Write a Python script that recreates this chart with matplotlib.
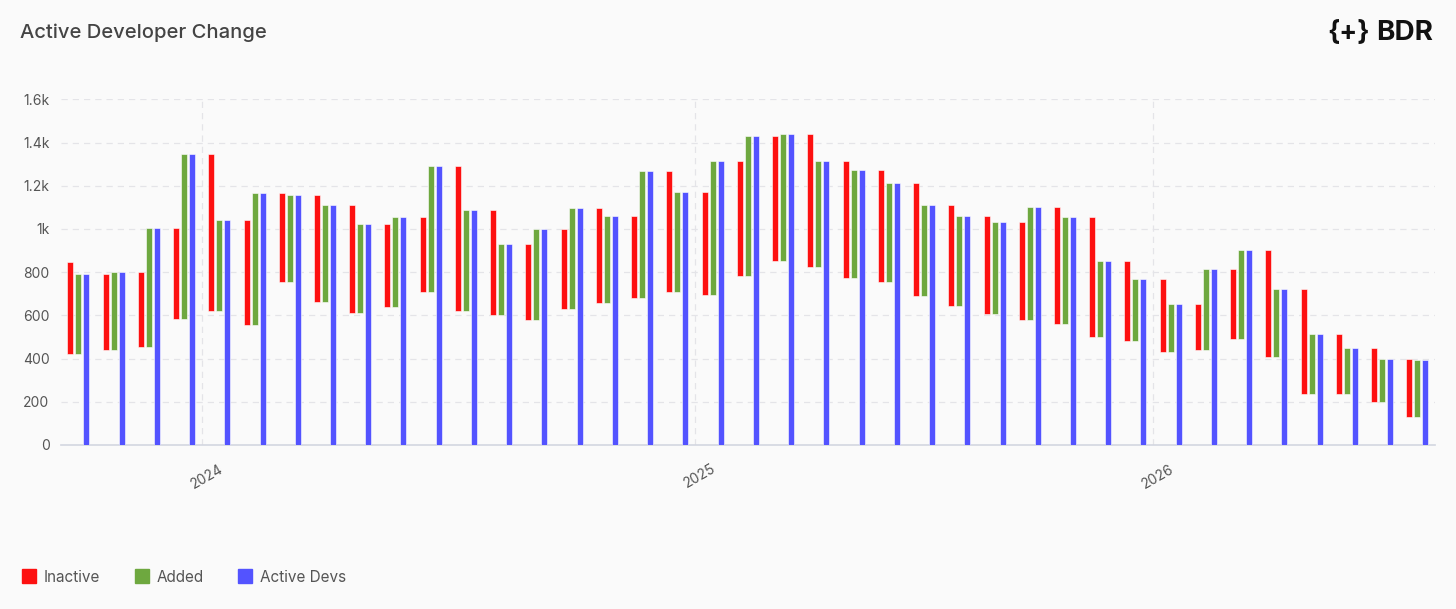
import matplotlib
matplotlib.use("Agg")
import matplotlib.pyplot as plt
import matplotlib.transforms as mtransforms
from matplotlib.lines import Line2D
import numpy as np

# ---------------- data ----------------
start_active = 847  # active developers before the first period
active_devs = [790, 801, 1003, 1347, 1043, 1166, 1156, 1111, 1021, 1055,
               1291, 1089, 932, 998, 1096, 1060, 1270, 1173, 1315, 1432,
               1438, 1315, 1275, 1211, 1111, 1060, 1034, 1100, 1055, 852,
               768, 651, 813, 903, 724, 515, 449, 398, 392]
inactive = [426, 350, 346, 418, 728, 486, 413, 493, 498, 382,
            347, 672, 489, 353, 368, 439, 381, 562, 477, 534,
            579, 612, 540, 522, 520, 466, 454, 455, 538, 555,
            369, 336, 211, 324, 497, 488, 279, 251, 268]
added = [369, 361, 548, 762, 424, 609, 403, 448, 408, 416,
         583, 470, 332, 419, 466, 403, 591, 465, 619, 651,
         585, 489, 500, 458, 420, 415, 428, 521, 493, 352,
         285, 219, 373, 414, 318, 279, 213, 200, 262]
year_labels = ["2024", "2025", "2026"]
year_positions = [3.5, 17.5, 30.5]   # boundaries between periods
y_ticks = [0, 200, 400, 600, 800, 1000, 1200, 1400, 1600]
y_tick_labels = ["0", "200", "400", "600", "800", "1k", "1.2k", "1.4k", "1.6k"]
series_names = ["Inactive", "Added", "Active Devs"]

# ---------------- style ----------------
RED = "#fd1010"
GREEN = "#6ea83f"
BLUE = "#5353ff"
BG = "#fafafa"
TXT = "#555555"
plt.rcParams["font.family"] = ["Inter", "DejaVu Sans"]

W, H = 1456, 609
fig = plt.figure(figsize=(W / 100, H / 100), dpi=100, facecolor=BG)
ax = fig.add_axes([60.7 / W, 1 - 445 / H, (1435 - 60.7) / W, (445 - 99.3) / H])
ax.set_facecolor(BG)

n = len(active_devs)
x = np.arange(n)
prev = np.array([start_active] + active_devs[:-1])
low = prev - np.array(inactive)

bw = 0.17
off = 0.227
ax.bar(x - off, inactive, bottom=low, width=bw, color=RED, edgecolor="white",
       linewidth=0.4, zorder=3)
ax.bar(x, added, bottom=low, width=bw, color=GREEN, edgecolor="white",
       linewidth=0.4, zorder=3)
ax.bar(x + off, active_devs, bottom=0, width=bw, color=BLUE, edgecolor="white",
       linewidth=0.4, zorder=3)

ax.set_xlim(-0.5, n - 0.5)
ax.set_ylim(0, 1600)

ax.set_yticks(y_ticks)
ax.set_yticklabels(y_tick_labels)
ax.set_xticks(year_positions)
ax.set_xticklabels(year_labels, rotation=30, ha="center")
ax.tick_params(axis="both", length=0, colors=TXT, labelsize=10)
ax.tick_params(axis="y", pad=8)
ax.tick_params(axis="x", pad=12)
shift = mtransforms.ScaledTranslation(5 / 100, 0, fig.dpi_scale_trans)
for lab in ax.get_xticklabels():
    lab.set_transform(lab.get_transform() + shift)

for yv in y_ticks[1:]:
    ax.axhline(yv, color="#e4e4e8", lw=0.9, ls=(0, (5, 4)), zorder=1)
for xv in year_positions:
    ax.axvline(xv, color="#e4e4e8", lw=0.9, ls=(0, (5, 4)), zorder=1)

for s in ["top", "right", "left"]:
    ax.spines[s].set_visible(False)
ax.spines["bottom"].set_color("#d3d6e0")
ax.spines["bottom"].set_linewidth(1.2)

# title and logo
fig.text(20 / W, 1 - 33 / H, "Active Developer Change", fontsize=14.5,
         color="#444444", fontweight="medium", va="center", ha="left")
fig.text(1370 / W, 1 - 33 / H, "{+}", fontsize=19, color="#111111",
         fontweight="bold", va="center", ha="right")
fig.text(1433 / W, 1 - 33 / H, "BDR", fontsize=20, color="#111111",
         fontweight="bold", va="center", ha="right")

# legend
handles = [Line2D([], [], ls="none", marker="s", markersize=10.5,
                  markerfacecolor=c, markeredgecolor=c)
           for c in (RED, GREEN, BLUE)]
fig.legend(handles, series_names, loc="center left",
           bbox_to_anchor=(21.4 / W, 1 - 577 / H), ncol=3, frameon=False,
           fontsize=11, handlelength=1.0, handletextpad=0.48,
           columnspacing=2.2, borderpad=0, borderaxespad=0,
           labelcolor=TXT)

fig.savefig("out.png", dpi=100, facecolor=BG)
